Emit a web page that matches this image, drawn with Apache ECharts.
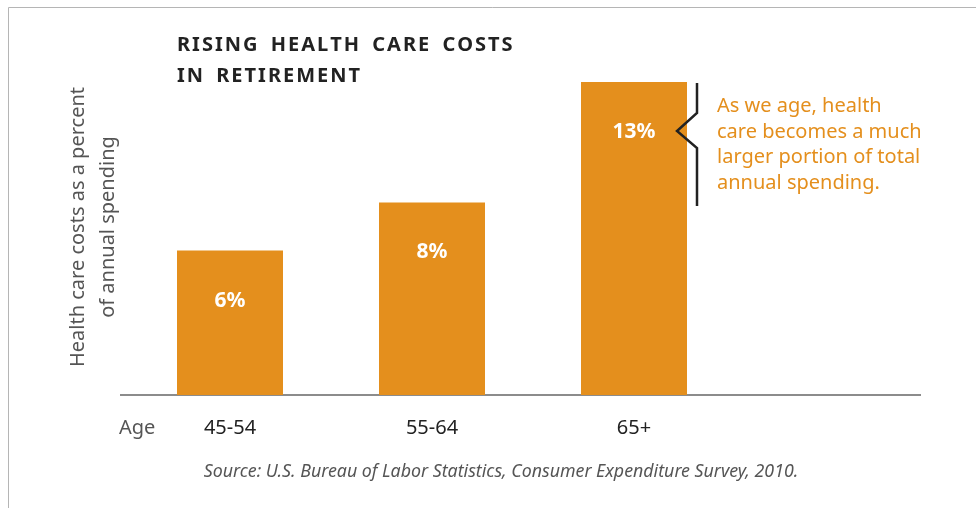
<!DOCTYPE html>
<html>
<head>
<meta charset="UTF-8">
<script src="https://cdn.jsdelivr.net/npm/echarts@6/dist/echarts.min.js"></script>
<style>
  html, body { margin: 0; padding: 0; background: #fff; }
  #chart { width: 976px; height: 508px; }
</style>
</head>
<body>
<div id="chart"></div>
<script>
  // data
  var ages = ['45-54', '55-64', '65+', ''];
  var shares = [6, 8, 13, null];
  var shareLabels = ['6%', '8%', '13%', ''];
  var titleLines = ['RISING HEALTH CARE COSTS', 'IN RETIREMENT'];
  var noteLines = ['As we age, health', 'care becomes a much', 'larger portion of total', 'annual spending.'];

  var orange = '#E48F1D';
  var chart = echarts.init(document.getElementById('chart'));

  // zrender has no letter-spacing, so put hair spaces between letters
  function spaced(s) {
    return s.split('').join('\u200A').replace(/ /g, '\u200A \u200A');
  }

  // bracket next to the tallest bar
  var bracket = {
    type: 'polyline',
    z: 100,
    shape: { points: [[697, 83], [697, 113], [677, 131], [697, 148], [697, 206]] },
    style: { stroke: '#222', lineWidth: 2.5, fill: null }
  };

  var noteText = {
    type: 'text',
    left: 717,
    top: 94,
    style: {
      text: noteLines.join('\n'),
      font: '20px "Noto Sans"',
      lineHeight: 25.5,
      fill: orange
    }
  };

  chart.setOption({
    animation: false,
    grid: { left: 129, width: 808, top: 82, bottom: 113 },
    xAxis: {
      type: 'category',
      data: ages,
      axisLine: { show: false },
      axisTick: { show: false },
      axisLabel: {
        margin: 23,
        fontFamily: 'Noto Sans',
        fontSize: 20,
        color: '#222'
      }
    },
    yAxis: {
      type: 'value',
      min: 0,
      max: 13,
      splitLine: { show: false },
      axisLabel: { show: false },
      axisLine: { show: false }
    },
    series: [{
      type: 'bar',
      data: shares,
      barWidth: 106,
      itemStyle: { color: orange },
      label: {
        show: true,
        position: ['50%', 50],
        align: 'center',
        verticalAlign: 'middle',
        formatter: function (p) { return shareLabels[p.dataIndex]; },
        fontFamily: 'Noto Sans',
        fontWeight: 'bold',
        fontSize: 21,
        color: '#fff'
      }
    }],
    graphic: [
      // frame
      { type: 'polyline', shape: { points: [[8.5, 508], [8.5, 7.5], [976, 7.5]] },
        style: { stroke: '#b5b5b5', lineWidth: 1, fill: null } },
      // title
      { type: 'text', x: 177, y: 45.5,
        style: { text: spaced(titleLines[0]), font: 'bold 20px "Noto Sans"', fill: '#222', verticalAlign: 'middle' } },
      { type: 'text', x: 177, y: 76.5,
        style: { text: spaced(titleLines[1]), font: 'bold 20px "Noto Sans"', fill: '#222', verticalAlign: 'middle' } },
      // y axis name
      { type: 'text', x: 93, y: 227, rotation: Math.PI / 2,
        style: { text: 'Health care costs as a percent\nof annual spending',
          font: '20px "Noto Sans"', lineHeight: 30, fill: '#555', align: 'center', verticalAlign: 'middle' } },
      // baseline
      { type: 'line', shape: { x1: 120, y1: 395, x2: 921, y2: 395 },
        style: { stroke: '#666', lineWidth: 1.5 } },
      { type: 'text', x: 119, y: 428,
        style: { text: 'Age', font: '20px "Noto Sans"', fill: '#555', verticalAlign: 'middle' } },
      { type: 'text', x: 501, y: 472,
        style: { text: 'Source: U.S. Bureau of Labor Statistics, Consumer Expenditure Survey, 2010.',
          font: 'italic 17.8px "Noto Sans"', fill: '#555', align: 'center', verticalAlign: 'middle' } },
      bracket,
      noteText
    ]
  });
</script>
</body>
</html>
